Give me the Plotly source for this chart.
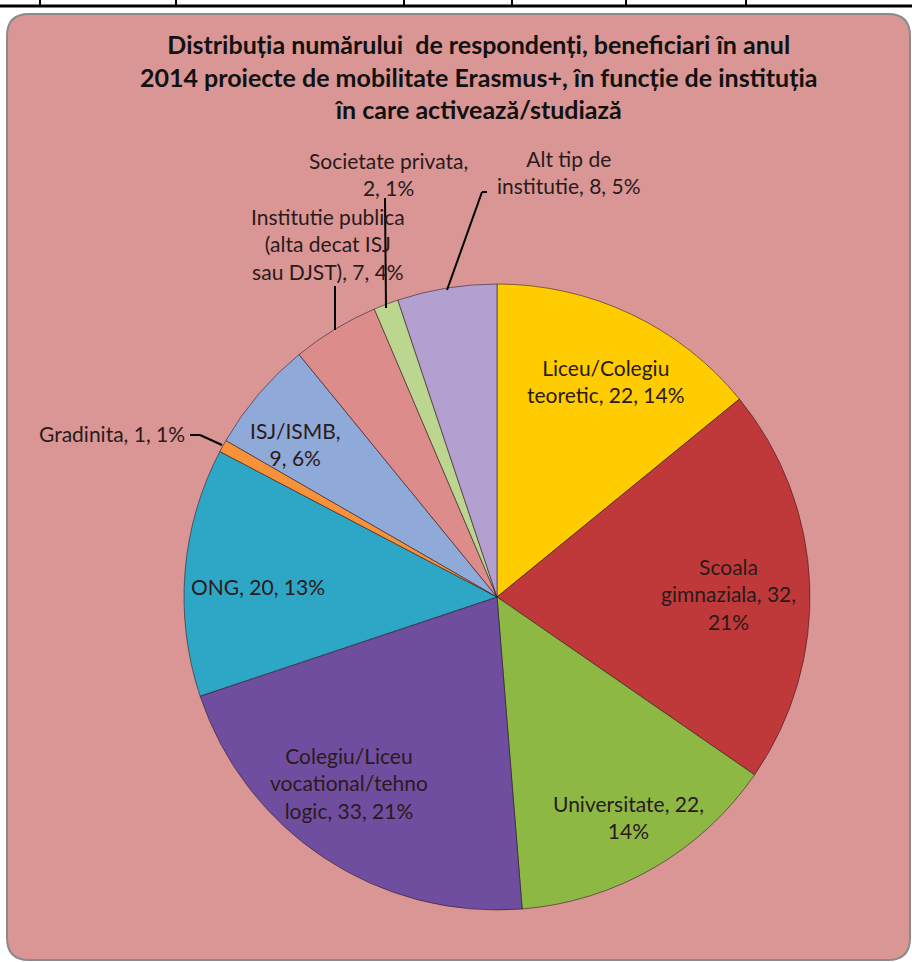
import plotly.graph_objects as go

# ---- data ----
categories = [
    "Liceu/Colegiu teoretic",
    "Scoala gimnaziala",
    "Universitate",
    "Colegiu/Liceu vocational/tehnologic",
    "ONG",
    "Gradinita",
    "ISJ/ISMB",
    "Institutie publica (alta decat ISJ sau DJST)",
    "Societate privata",
    "Alt tip de institutie",
]
values = [22, 32, 22, 33, 20, 1, 9, 7, 2, 8]
label_texts = [
    "Liceu/Colegiu<br>teoretic, 22, 14%",
    "Scoala<br>gimnaziala, 32,<br>21%",
    "Universitate, 22,<br>14%",
    "Colegiu/Liceu<br>vocational/tehno<br>logic, 33, 21%",
    "ONG, 20, 13%",
    "Gradinita, 1, 1%",
    "ISJ/ISMB,<br>9, 6%",
    "Institutie publica<br>(alta decat ISJ<br>sau DJST), 7, 4%",
    "Societate privata,<br>2, 1%",
    "Alt tip de<br>institutie, 8, 5%",
]
title_text = ("Distribuția numărului  de respondenți, beneficiari în anul<br>"
              "2014 proiecte de mobilitate Erasmus+, în funcție de instituția<br>"
              "în care activează/studiază")

# ---- styles ----
colors = ["#FFCC00", "#C0393A", "#8DB843", "#6F4E9F", "#2EA7C6",
          "#F7923A", "#8FA9D9", "#DB8C8B", "#BCD68F", "#B3A0D0"]
W, H = 912, 962
BG = "#D99695"
FONT = "Lato, Calibri, 'Open Sans', sans-serif"


def px(x):
    return x / W


def py(y):
    return 1 - y / H


cx, cy, r = 497, 597, 313

fig = go.Figure(go.Pie(
    labels=categories,
    values=values,
    sort=False,
    direction="clockwise",
    rotation=0,
    textinfo="none",
    marker=dict(colors=colors, line=dict(color="rgba(40,20,30,0.55)", width=1)),
    domain=dict(x=[px(cx - r), px(cx + r)], y=[py(cy + r), py(cy - r)]),
    showlegend=False,
))

# label positions (px) for each category
label_pos = [(606, 381), (728, 594), (628, 817), (349, 783), (258, 586),
             (112, 434), (295, 444), (328, 244), (388, 174), (569, 172)]
annotations = []
for txt, (x, y) in zip(label_texts, label_pos):
    annotations.append(dict(
        x=px(x), y=py(y), xref="paper", yref="paper", text=txt,
        showarrow=False, align="center", xanchor="center", yanchor="middle",
        font=dict(family=FONT, size=21, color="#2b1a1a"),
    ))
annotations.append(dict(
    x=px(478), y=py(77), xref="paper", yref="paper", text=title_text,
    showarrow=False, align="center", xanchor="center", yanchor="middle",
    font=dict(family=FONT, size=25, color="#111111", weight="bold"),
))

# rounded background rectangle
x0, x1, y0, y1, rc = 7, 910, 14, 960, 22
path = (f"M {px(x0+rc)},{py(y0)} L {px(x1-rc)},{py(y0)} "
        f"Q {px(x1)},{py(y0)} {px(x1)},{py(y0+rc)} "
        f"L {px(x1)},{py(y1-rc)} Q {px(x1)},{py(y1)} {px(x1-rc)},{py(y1)} "
        f"L {px(x0+rc)},{py(y1)} Q {px(x0)},{py(y1)} {px(x0)},{py(y1-rc)} "
        f"L {px(x0)},{py(y0+rc)} Q {px(x0)},{py(y0)} {px(x0+rc)},{py(y0)} Z")
shapes = [dict(type="path", path=path, xref="paper", yref="paper",
               fillcolor=BG, line=dict(color="#8a8a8a", width=2), layer="below")]

# table border at top
shapes.append(dict(type="line", xref="paper", yref="paper",
                   x0=0, x1=1, y0=py(6), y1=py(6),
                   line=dict(color="black", width=3)))
for vx in [40, 176, 404, 512, 626, 746]:
    shapes.append(dict(type="line", xref="paper", yref="paper",
                       x0=px(vx), x1=px(vx), y0=py(0), y1=py(6),
                       line=dict(color="black", width=2)))

# leader lines
leaders = [
    [(190, 435), (200, 435), (222, 445)],      # Gradinita
    [(335, 286), (335, 330)],                  # Institutie publica
    [(385, 198), (386, 308)],                  # Societate privata
    [(487, 192), (482, 192), (447, 290)],      # Alt tip
]
for pts in leaders:
    for (ax, ay), (bx, by) in zip(pts[:-1], pts[1:]):
        shapes.append(dict(type="line", xref="paper", yref="paper",
                           x0=px(ax), y0=py(ay), x1=px(bx), y1=py(by),
                           line=dict(color="black", width=2)))

fig.update_layout(
    width=W, height=H, autosize=False,
    margin=dict(l=0, r=0, t=0, b=0),
    paper_bgcolor="white", plot_bgcolor="white",
    shapes=shapes, annotations=annotations,
)

fig.write_html("out.html",
               config={"displayModeBar": False},
               post_script="document.body.style.margin='0';"
                           "document.body.style.overflow='hidden';")
